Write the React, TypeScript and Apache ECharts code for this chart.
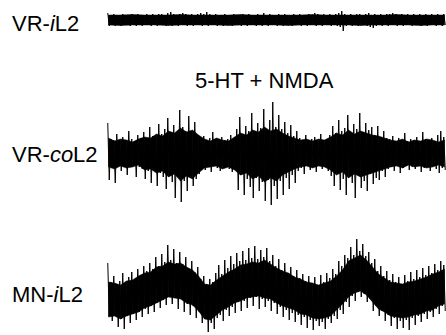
import React, { useEffect, useRef } from "react";
import * as echarts from "echarts";

// Trace labels: [plain prefix, italic part, plain suffix]
const labelParts: string[][] = [
  ["VR-", "i", "L2"],
  ["VR-", "co", "L2"],
  ["MN-", "i", "L2"],
];
const conditionLabel = "5-HT + NMDA";

// VR-iL2 (quiet trace): per-column upper / lower excursions
const hi1 = [7,5,6,5,5,6,5,5,6,5, 6,5,5,6,5,6,5,6,6,5, 7,8,6,5,6,7,6,5,6,5, 6,7,6,8,6,5,6,5,5,6, 5,5,6,5,5,6,5,6,5,5, 6,5,7,5,6,5,5,6,5,6, 5,5,6,5,6,5,5,6,5,7, 6,5,6,5,6,5,6,7,9,6, 5,6,5,6,6,5,6,7,5,6, 5,6,5,6,6,7,6,5,6,5, 6,5,6,5,6,5,6,5,6,5, 6,5,6];
const lo1 = [-6,-5,-6,-5,-6,-5,-5,-6,-5,-6, -5,-6,-5,-5,-6,-5,-6,-5,-5,-6, -5,-6,-5,-6,-5,-5,-6,-5,-6,-5, -5,-6,-5,-6,-5,-5,-6,-5,-6,-5, -5,-6,-5,-5,-6,-5,-6,-5,-5,-6, -5,-6,-5,-6,-5,-5,-6,-5,-6,-5, -5,-6,-5,-5,-6,-5,-6,-5,-5,-6, -5,-6,-5,-5,-6,-5,-6,-7,-11,-6, -5,-6,-5,-6,-5,-5,-6,-7,-8,-6, -5,-6,-5,-6,-5,-5,-6,-5,-6,-5, -5,-6,-5,-5,-6,-5,-6,-5,-5,-6, -5,-6,-5];
const coreHi1 = [5,5,5.5,5,5,5,5.5,5,5,5,5,5.5,5,5,5,5,5,5.5,5,5,5,5,5,5,5.5,5,5,5,5];
const coreLo1 = [-5,-5.5,-5,-5,-5,-5.5,-5,-5,-5,-5,-5.5,-5,-5,-5,-5,-5.5,-5,-5,-5,-5,-5,-5.5,-5,-5,-5,-5,-5.5,-5,-5];

// VR-coL2 (bursting trace)
const hi2 = [30,14,13,19,12,16,13,22,14,12,18, 15,21,14,26,17,16,29,19, 24,35,21,28,19,43,26,22,37,20,31,18, 14,17,12,15,21,13,12,16,13,14,18, 15,24,36,19,27,22,40,21,30,25,44,23,33,51,26,38,24,31,20,28,17,22, 15,13,18,12,14,16,12,19,13,14, 18,27,20,33,22,25,38,19,29,24,40,21,30,23,26,18,27,16,22,15, 14,17,12,15,13,20,12,14,13,16,12,21,14,13,15,12,18,22,16];
const lo2 = [-27,-14,-30,-13,-18,-12,-22,-14,-13,-24,-14, -16,-26,-18,-30,-15,-33,-20,-24, -36,-22,-29,-45,-24,-49,-28,-38,-23,-33,-26,-21, -14,-17,-13,-19,-12,-15,-18,-13,-14,-16,-19, -17,-37,-22,-42,-26,-34,-45,-25,-38,-29,-48,-27,-52,-33,-46,-28,-42,-25,-36,-22,-30,-18, -15,-21,-13,-17,-14,-19,-13,-16,-14,-18, -23,-33,-19,-37,-26,-42,-24,-30,-45,-22,-35,-28,-38,-21,-31,-25,-27,-18,-24,-16, -14,-18,-13,-20,-15,-13,-17,-14,-16,-13,-19,-15,-14,-18,-13,-16,-20,-15,-17];
const coreHi2 = [15,12,14,13,11,14,16,15,19,17, 22,20,25,21,23,18,14,12,15,13, 12,16,20,18,23,21,26,22,24,20, 17,15,13,14,12,14,13,16,20,18, 23,19,22,20,18,17,15,13,12,14, 11,13,12,14,13,11,13];
const coreLo2 = [-14,-16,-13,-15,-14,-12,-17,-16,-20,-18, -24,-21,-28,-23,-26,-20,-15,-14,-13,-16, -14,-17,-22,-20,-26,-23,-29,-25,-28,-22, -19,-16,-14,-13,-15,-13,-14,-17,-22,-19, -25,-21,-24,-22,-20,-18,-16,-14,-13,-15, -12,-14,-13,-15,-14,-12,-14];

// MN-iL2 (slow-wave trace)
const hi3 = [22,3,9,0,4,12,3,8,13,6, 16,10,19,14,22,16,28,19,31,23, 40,25,36,22,33,21,28,16,24,13, 18,6,9,1,6,3,12,20,11,25, 17,29,21,32,24,34,25,37,27,39, 26,35,28,37,24,30,19,26,15,22, 12,18,9,15,7,11,4,9,2,8, 0,10,3,12,7,16,11,24,19,30, 27,38,30,46,34,41,29,33,22,26, 14,19,9,14,5,11,3,8,1,10, 4,13,6,15,8,17,10,19,12,21, 15,24,20];
const lo3 = [-31,-36,-30,-42,-34,-44,-31,-38,-29,-35, -27,-32,-24,-29,-21,-27,-18,-23,-15,-20, -12,-19,-13,-24,-14,-27,-19,-30,-21,-33, -27,-38,-34,-47,-38,-44,-33,-30,-36,-25, -31,-22,-28,-17,-26,-16,-23,-13,-21,-12, -24,-14,-22,-16,-26,-18,-29,-22,-32,-25, -35,-28,-37,-30,-40,-32,-43,-35,-45,-36, -41,-37,-44,-34,-38,-31,-34,-25,-29,-17, -22,-11,-16,-7,-12,-9,-17,-14,-26,-21, -31,-26,-36,-30,-41,-33,-44,-36,-43,-35, -45,-33,-40,-31,-37,-29,-34,-27,-32,-24, -29,-21,-26];
const coreHi3 = [3,2,0,4,5,9,12,13,18,19, 23,21,22,18,15,9,1,0,5,9, 13,16,20,21,23,22,25,21,17,14, 12,8,6,3,2,0,2,4,9,15, 24,27,30,25,18,11,7,3,2,1, 3,4,6,8,11,13,16];
const coreLo3 = [-32,-31,-34,-31,-29,-27,-23,-21,-18,-15, -12,-13,-14,-18,-20,-26,-34,-35,-30,-25, -22,-18,-16,-13,-12,-11,-13,-14,-18,-21, -23,-25,-29,-30,-33,-34,-33,-31,-25,-19, -12,-8,-6,-10,-17,-24,-27,-31,-32,-33, -32,-30,-29,-26,-25,-21,-19];

const FONT = '"Liberation Sans", Arial, sans-serif';

function traceSeries(idx: number, hi: number[], lo: number[], cHi: number[], cLo: number[]) {
  const zig: number[][] = [];
  hi.forEach((h, i) => {
    zig.push([i + 0.25, h]);
    zig.push([i + 0.75, lo[i]]);
  });
  const step = (hi.length - 1) / (cHi.length - 1);
  const segs: number[][] = [];
  for (let k = 0; k < cHi.length - 1; k++) {
    segs.push([k * step + 0.5, cHi[k], cLo[k], (k + 1) * step + 0.5, cHi[k + 1], cLo[k + 1]]);
  }
  return [
    {
      type: "custom",
      xAxisIndex: idx,
      yAxisIndex: idx,
      silent: true,
      clip: true,
      encode: { x: [0, 3], y: [1, 2, 4, 5] },
      data: segs,
      renderItem: (_p: any, api: any) => {
        const x0 = api.value(0), h0 = api.value(1), l0 = api.value(2);
        const x1 = api.value(3), h1 = api.value(4), l1 = api.value(5);
        const pts = [
          api.coord([x0, h0]),
          api.coord([x1, h1]),
          api.coord([x1, l1]),
          api.coord([x0, l0]),
        ];
        return { type: "polygon", shape: { points: pts }, style: { fill: "#000", stroke: "#000", lineWidth: 0.5 } };
      },
    },
    {
      type: "line",
      xAxisIndex: idx,
      yAxisIndex: idx,
      symbol: "none",
      silent: true,
      data: zig,
      lineStyle: { color: "#000", width: 1 },
    },
  ];
}

export default function App() {
  const ref = useRef<HTMLDivElement>(null);
  useEffect(() => {
    if (!ref.current) return;
    const chart = echarts.init(ref.current, null, { renderer: "svg" });
    const rich = {
      n: { fontSize: 22, fontFamily: FONT, fill: "#000" },
      it: { fontSize: 22, fontFamily: FONT, fontStyle: "italic", fill: "#000" },
    };
    const labelY = [23, 154, 294];
    const graphics: any[] = labelParts.map((p, k) => ({
      type: "text",
      x: 12,
      y: labelY[k],
      style: {
        text: `{n|${p[0]}}{it|${p[1]}}{n|${p[2]}}`,
        rich,
        verticalAlign: "middle",
        fill: "#000",
        font: `22px ${FONT}`,
      },
    }));
    graphics.push({
      type: "text",
      x: 195,
      y: 80,
      style: { text: conditionLabel, font: `22px ${FONT}`, fill: "#000", verticalAlign: "middle" },
    });
    const grids = [
      { left: 107, right: 0, top: 8, height: 24 },
      { left: 107, right: 0, top: 98, height: 110 },
      { left: 107, right: 0, top: 235, height: 100 },
    ];
    const yr = [12, 55, 50];
    const lens = [hi1.length, hi2.length, hi3.length];
    chart.setOption({
      animation: false,
      grid: grids,
      xAxis: grids.map((_, i) => ({ type: "value", gridIndex: i, min: 0, max: lens[i], show: false })),
      yAxis: grids.map((_, i) => ({ type: "value", gridIndex: i, min: -yr[i], max: yr[i], show: false })),
      graphic: graphics,
      series: [
        ...traceSeries(0, hi1, lo1, coreHi1, coreLo1),
        ...traceSeries(1, hi2, lo2, coreHi2, coreLo2),
        ...traceSeries(2, hi3, lo3, coreHi3, coreLo3),
      ],
    });
    return () => chart.dispose();
  }, []);
  return (
    <div
      ref={ref}
      style={{ position: "fixed", left: 0, top: 0, width: 446, height: 335, background: "#fff" }}
    />
  );
}
